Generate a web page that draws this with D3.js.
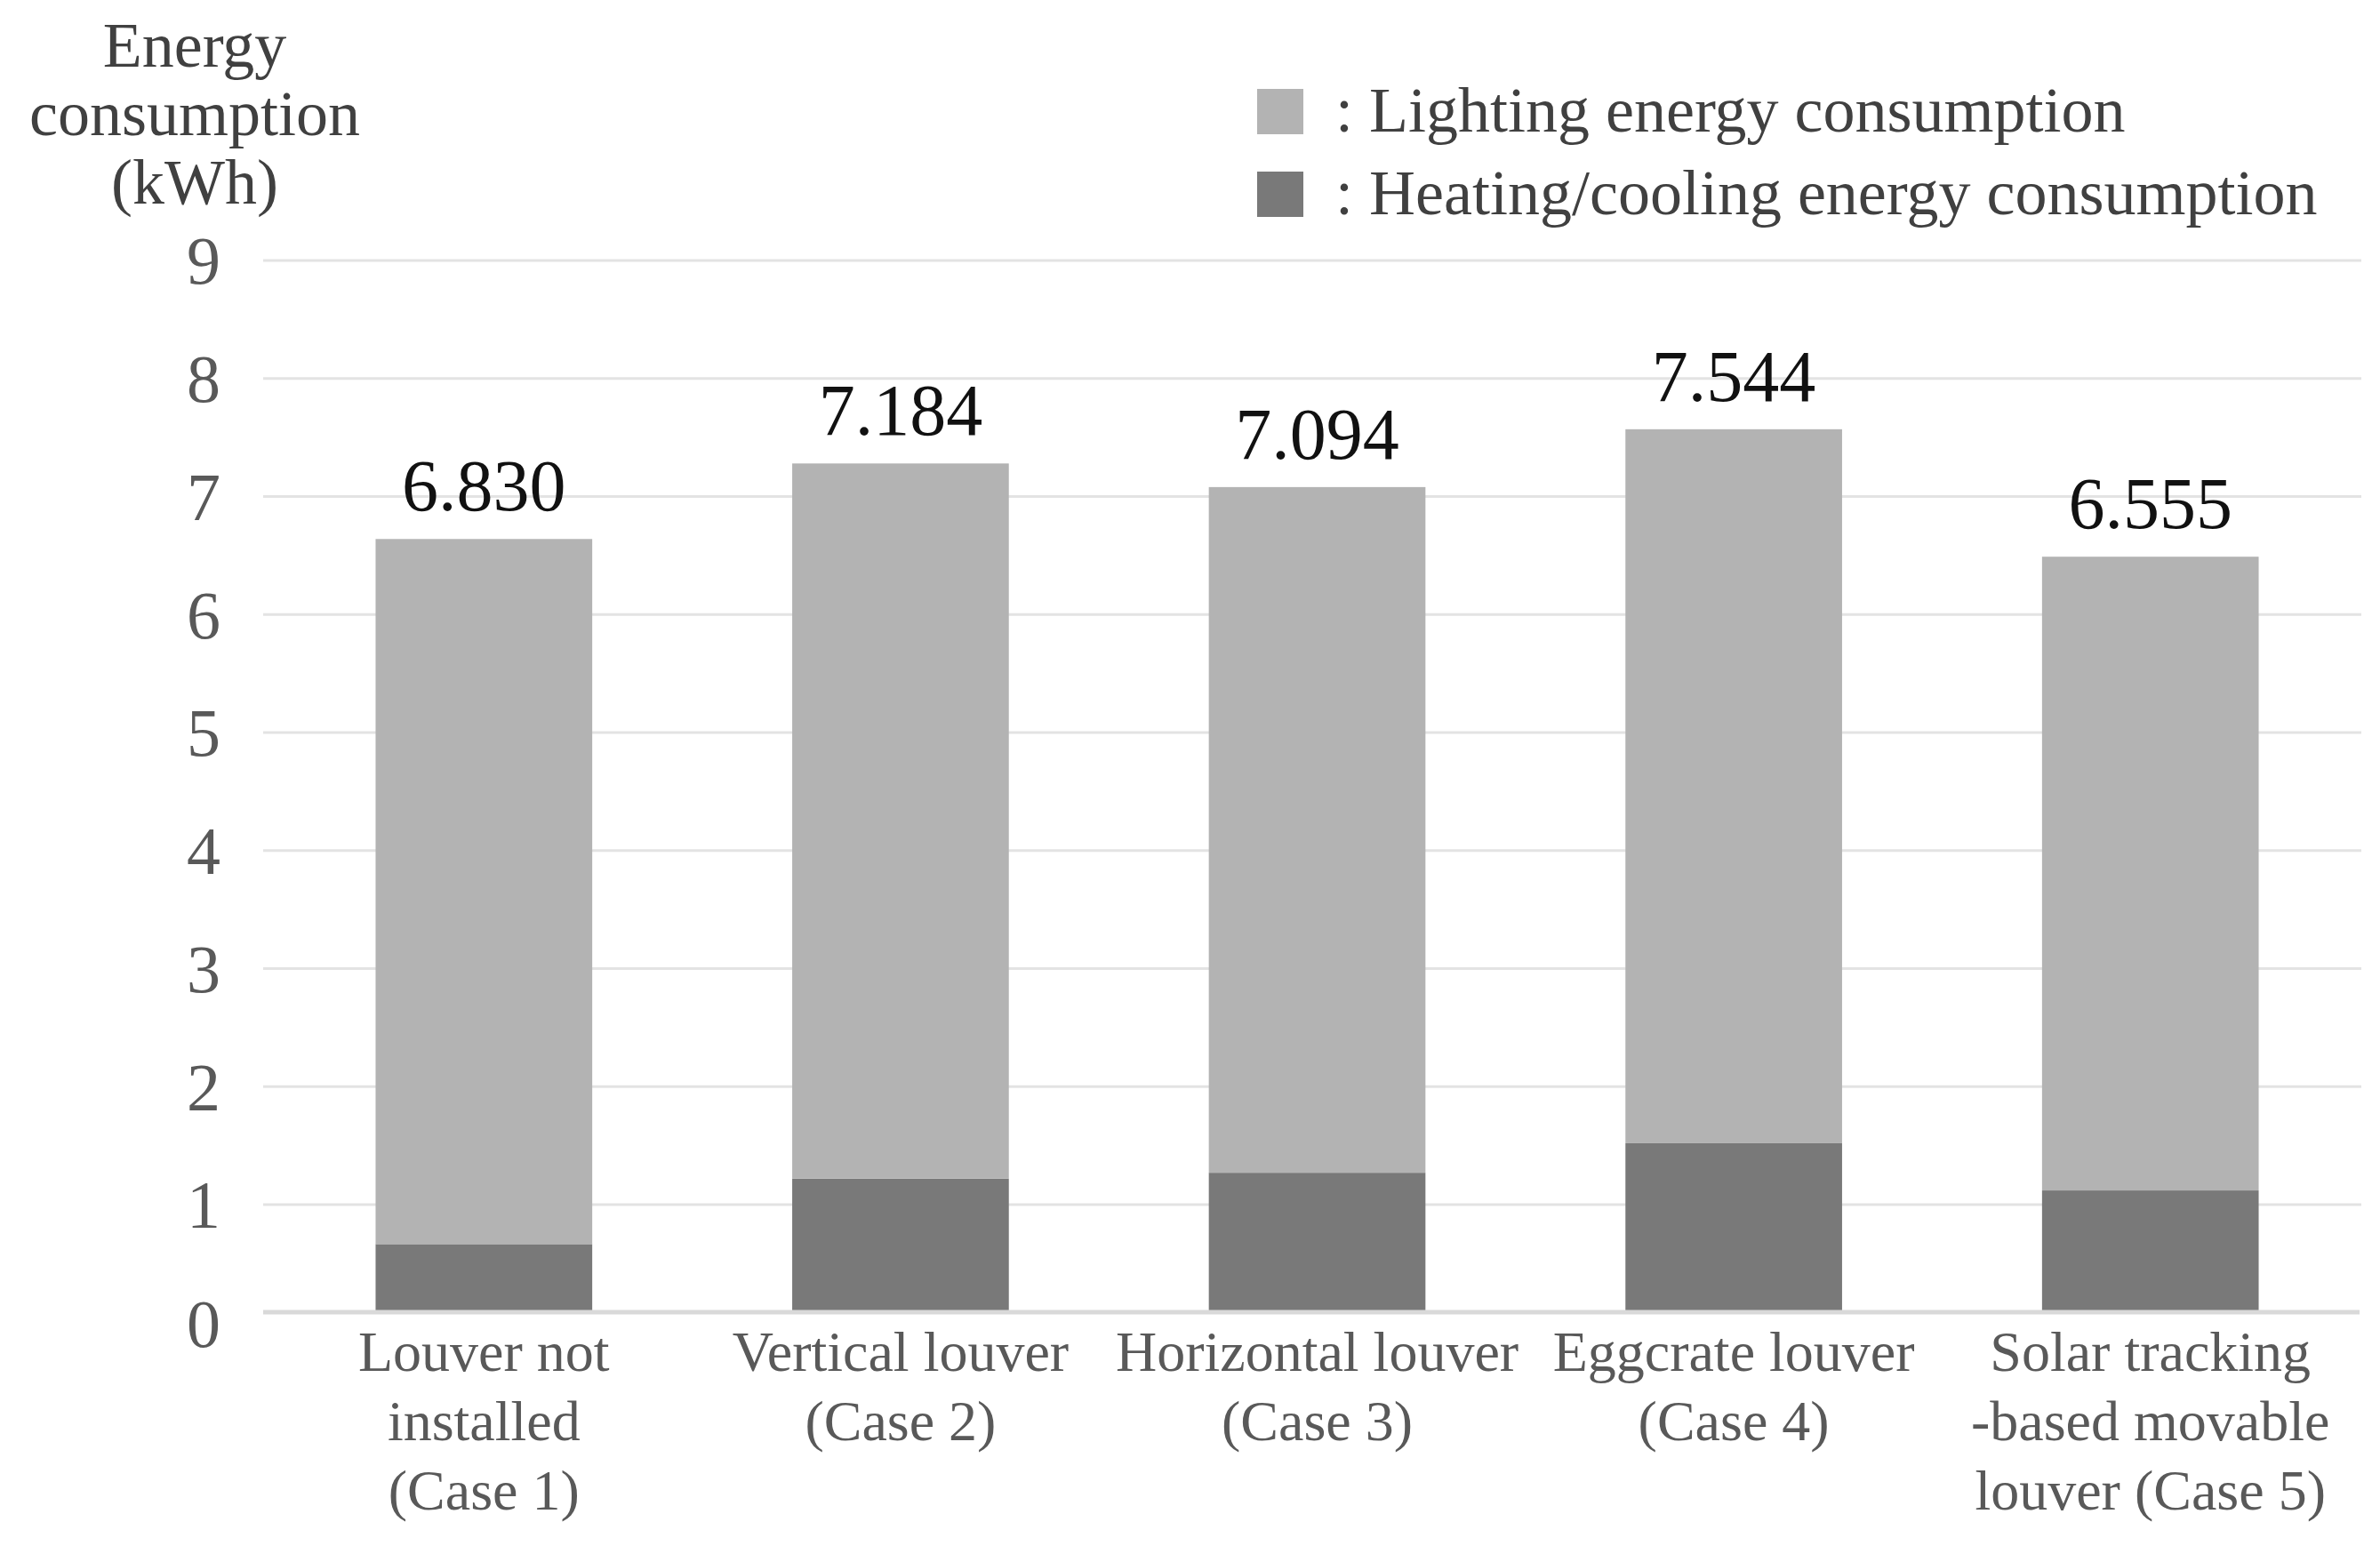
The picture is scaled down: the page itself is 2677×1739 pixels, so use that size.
<!DOCTYPE html>
<html>

<head>
  <meta charset="utf-8">
  <title>Energy consumption by louver type</title>
  <script src="https://cdn.jsdelivr.net/npm/d3@7"></script>
</head>
<style>
  html,
  body {
    margin: 0;
    padding: 0;
    overflow: hidden;
    background: #fff;
  }

  svg {
    display: block;
    font-family: "Liberation Serif", "Times New Roman", serif;
  }
</style>

<body>
  <div id="chart"></div>
</body>
<script>
  // values
  const categories = [
    ['Louver not', 'installed', '(Case 1)'],
    ['Vertical louver', '(Case 2)'],
    ['Horizontal louver', '(Case 3)'],
    ['Eggcrate louver', '(Case 4)'],
    ['Solar tracking', '-based movable', 'louver (Case 5)']
  ]
  const heating = [0.63, 1.22, 1.27, 1.52, 1.12]
  const lighting = [6.01, 6.06, 5.81, 6.05, 5.37]
  const totalLabels = ['6.830', '7.184', '7.094', '7.544', '6.555']
  const yTicks = [0, 1, 2, 3, 4, 5, 6, 7, 8, 9]
  const seriesNames = [': Lighting energy consumption', ': Heating/cooling energy consumption']
  const yTitle = ['Energy', 'consumption', '(kWh)']

  const width = 2677, height = 1739
  const colLight = '#b3b3b3', colDark = '#797979'

  const svg = d3.select('#chart')
    .append('svg')
    .attr('width', width)
    .attr('height', height)

  const x = d3.scaleBand()
    .domain(d3.range(categories.length))
    .range([310, 2653])
    .paddingInner(0.48)
    .paddingOuter(0.24)

  // the 0 line sits a little closer to 1 than the other gridlines do
  const y = d3.scaleLinear().domain([0, 1, 9]).range([1475, 1355, 293])

  // gridlines
  svg.append('g')
    .selectAll('line')
    .data(yTicks.slice(1))
    .enter().append('line')
    .attr('x1', 296).attr('x2', 2656)
    .attr('y1', d => y(d)).attr('y2', d => y(d))
    .attr('stroke', '#e3e3e3')
    .attr('stroke-width', 3)

  // y axis labels
  const yAxis = svg.append('g')
    .attr('transform', 'translate(296,0)')
    .call(d3.axisLeft(y).tickValues(yTicks).tickSize(0).tickPadding(48).tickFormat(d3.format('d')))
  yAxis.select('.domain').remove()
  yAxis.selectAll('text')
    .attr('font-family', '"Liberation Serif", serif')
    .attr('font-size', 76)
    .attr('fill', '#595959')
    .attr('dy', d => d === 0 ? '0.52em' : '0.34em')

  // stacked bars
  const stackData = heating.map((h, i) => ({ i: i, heating: h, lighting: lighting[i] }))
  const stacked = d3.stack().keys(['heating', 'lighting'])(stackData)
  const colors = { heating: colDark, lighting: colLight }

  svg.append('g')
    .selectAll('g')
    .data(stacked)
    .enter().append('g')
    .attr('fill', d => colors[d.key])
    .selectAll('rect')
    .data(d => d)
    .enter().append('rect')
    .attr('x', d => x(d.data.i))
    .attr('width', x.bandwidth())
    .attr('y', d => y(d[1]))
    .attr('height', d => y(d[0]) - y(d[1]))

  // baseline
  svg.append('line')
    .attr('x1', 296).attr('x2', 2654)
    .attr('y1', y(0) + 1).attr('y2', y(0) + 1)
    .attr('stroke', '#d9d9d9')
    .attr('stroke-width', 5)

  // total labels
  svg.append('g')
    .selectAll('text')
    .data(totalLabels)
    .enter().append('text')
    .attr('x', (d, i) => x(i) + x.bandwidth() / 2)
    .attr('y', (d, i) => y(heating[i] + lighting[i]) - 32)
    .attr('text-anchor', 'middle')
    .attr('font-size', 82)
    .attr('fill', '#111')
    .text(d => d)

  // category labels
  const cat = svg.append('g')
    .selectAll('text')
    .data(categories)
    .enter().append('text')
    .attr('x', (d, i) => x(i) + x.bandwidth() / 2)
    .attr('y', 1542)
    .attr('text-anchor', 'middle')
    .attr('font-size', 64)
    .attr('fill', '#595959')
  cat.selectAll('tspan')
    .data(d => d)
    .enter().append('tspan')
    .attr('x', function () { return this.parentNode.getAttribute('x') })
    .attr('dy', (d, j) => j === 0 ? 0 : 78)
    .text(d => d)

  // y axis title
  svg.append('text')
    .attr('x', 219)
    .attr('y', 75)
    .attr('text-anchor', 'middle')
    .attr('font-size', 72)
    .attr('fill', '#404040')
    .selectAll('tspan')
    .data(yTitle)
    .enter().append('tspan')
    .attr('x', 219)
    .attr('dy', (d, j) => j === 0 ? 0 : 77)
    .text(d => d)

  // legend
  const legend = svg.append('g')
    .selectAll('g')
    .data(seriesNames)
    .enter().append('g')
    .attr('transform', (d, i) => 'translate(1414,' + (100 + i * 93) + ')')
  legend.append('rect')
    .attr('width', 52).attr('height', 51)
    .attr('fill', (d, i) => i === 0 ? colLight : colDark)
  legend.append('text')
    .attr('x', 88)
    .attr('y', 48)
    .attr('font-size', 72)
    .attr('fill', '#404040')
    .text(d => d)
</script>

</html>
